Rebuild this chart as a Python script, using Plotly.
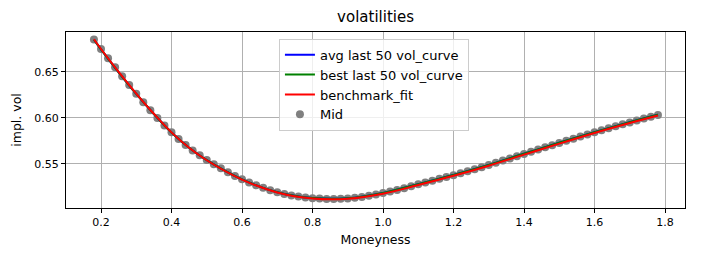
import plotly.graph_objects as go

# Mid market implied vols (scatter points)
moneyness = [0.18, 0.20, 0.22, 0.24, 0.26, 0.28, 0.30, 0.32, 0.34, 0.36, 0.38, 0.40,
             0.42, 0.44, 0.46, 0.48, 0.50, 0.52, 0.54, 0.56, 0.58, 0.60, 0.62, 0.64,
             0.66, 0.68, 0.70, 0.72, 0.74, 0.76, 0.78, 0.80, 0.82, 0.84, 0.86, 0.88,
             0.90, 0.92, 0.94, 0.96, 0.98, 1.00, 1.02, 1.04, 1.06, 1.08, 1.10, 1.12,
             1.14, 1.16, 1.18, 1.20, 1.22, 1.24, 1.26, 1.28, 1.30, 1.32, 1.34, 1.36,
             1.38, 1.40, 1.42, 1.44, 1.46, 1.48, 1.50, 1.52, 1.54, 1.56, 1.58, 1.60,
             1.62, 1.64, 1.66, 1.68, 1.70, 1.72, 1.74, 1.76, 1.78]
mid_vol = [0.6850, 0.6745, 0.6645, 0.6547, 0.6450, 0.6354, 0.6260, 0.6168, 0.6080, 0.5996,
           0.5916, 0.5840, 0.5769, 0.5704, 0.5644, 0.5590, 0.5540, 0.5493, 0.5449, 0.5407,
           0.5367, 0.5330, 0.5296, 0.5265, 0.5237, 0.5212, 0.5190, 0.5171, 0.5155, 0.5142,
           0.5132, 0.5125, 0.5120, 0.5117, 0.5116, 0.5118, 0.5122, 0.5129, 0.5138, 0.5150,
           0.5164, 0.5180, 0.5197, 0.5215, 0.5234, 0.5254, 0.5275, 0.5295, 0.5315, 0.5335,
           0.5355, 0.5375, 0.5396, 0.5418, 0.5440, 0.5462, 0.5485, 0.5509, 0.5533, 0.5557,
           0.5581, 0.5605, 0.5629, 0.5653, 0.5677, 0.5701, 0.5725, 0.5749, 0.5772, 0.5795,
           0.5818, 0.5840, 0.5862, 0.5884, 0.5906, 0.5927, 0.5948, 0.5969, 0.5990, 0.6010,
           0.6030]

# Fitted curves
fit_moneyness = [0.18, 0.20, 0.25, 0.30, 0.35, 0.40, 0.45, 0.50, 0.60, 0.70, 0.80, 0.90,
                 1.00, 1.10, 1.20, 1.30, 1.40, 1.50, 1.60, 1.70, 1.78]
avg_curve = [0.6848, 0.6742, 0.6493, 0.6258, 0.6040, 0.5838, 0.5673, 0.5538, 0.5329, 0.5190,
             0.5126, 0.5124, 0.5182, 0.5277, 0.5377, 0.5487, 0.5607, 0.5727, 0.5842, 0.5950,
             0.6031]
best_curve = [0.6848, 0.6742, 0.6493, 0.6258, 0.6040, 0.5838, 0.5673, 0.5538, 0.5329, 0.5190,
              0.5126, 0.5124, 0.5182, 0.5277, 0.5377, 0.5487, 0.5607, 0.5727, 0.5842, 0.5950,
              0.6031]
benchmark_curve = [0.6852, 0.6746, 0.6497, 0.6262, 0.6042, 0.5840, 0.5673, 0.5537, 0.5327, 0.5187,
                   0.5121, 0.5118, 0.5173, 0.5268, 0.5368, 0.5478, 0.5598, 0.5718, 0.5834, 0.5942,
                   0.6024]

x_ticks = [0.2, 0.4, 0.6, 0.8, 1.0, 1.2, 1.4, 1.6, 1.8]
x_tick_labels = ["0.2", "0.4", "0.6", "0.8", "1.0", "1.2", "1.4", "1.6", "1.8"]
y_ticks = [0.55, 0.60, 0.65]
y_tick_labels = ["0.55", "0.60", "0.65"]

FONT = "DejaVu Sans"

fig = go.Figure()
fig.add_trace(go.Scatter(x=moneyness, y=mid_vol, mode="markers", name="Mid",
                         marker=dict(color="#808080", size=8, line=dict(width=0)),
                         legendrank=4))
fig.add_trace(go.Scatter(x=fit_moneyness, y=avg_curve, mode="lines", name="avg last 50 vol_curve",
                         line=dict(color="blue", width=2, shape="spline"), legendrank=1))
fig.add_trace(go.Scatter(x=fit_moneyness, y=best_curve, mode="lines", name="best last 50 vol_curve",
                         line=dict(color="green", width=2, shape="spline"), legendrank=2))
fig.add_trace(go.Scatter(x=fit_moneyness, y=benchmark_curve, mode="lines", name="benchmark_fit",
                         line=dict(color="red", width=2, shape="spline"), legendrank=3))

axis_common = dict(
    showline=True, linecolor="black", linewidth=1, mirror=True,
    ticks="outside", ticklen=4, tickwidth=1, tickcolor="black",
    showgrid=True, gridcolor="#b0b0b0", gridwidth=1,
    zeroline=False, tickfont=dict(family=FONT, size=11, color="black"),
    automargin=False,
)

fig.update_layout(
    width=716, height=256,
    margin=dict(l=66, r=31, t=32, b=48),
    paper_bgcolor="white", plot_bgcolor="white",
    font=dict(family=FONT, size=12, color="black"),
    title=dict(text="volatilities", x=0.5245, xanchor="center", y=0.934, yanchor="middle",
               font=dict(family=FONT, size=15, color="black"), automargin=False),
    showlegend=True,
    legend=dict(x=0.344, y=0.962, xanchor="left", yanchor="top",
                bgcolor="rgba(255,255,255,0.8)", bordercolor="#cccccc", borderwidth=1,
                font=dict(family=FONT, size=13, color="black"),
                tracegroupgap=0, itemwidth=30),
)
fig.update_xaxes(range=[0.1007, 1.8567], tickvals=x_ticks, ticktext=x_tick_labels,
                 title=dict(text="Moneyness", font=dict(family=FONT, size=12.5), standoff=7),
                 **axis_common)
fig.update_yaxes(range=[0.5018, 0.6931], tickvals=y_ticks, ticktext=y_tick_labels,
                 title=dict(text="impl. vol", font=dict(family=FONT, size=12.5), standoff=9),
                 **axis_common)

fig.write_html("out.html", post_script="document.body.style.margin='0px';",
               config={"displayModeBar": False})
